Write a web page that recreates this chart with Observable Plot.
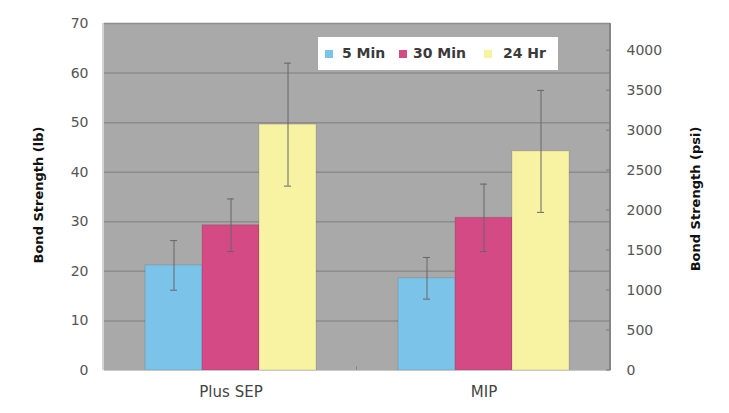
<!DOCTYPE html>
<html>
<head>
<meta charset="utf-8">
<script src="https://cdn.jsdelivr.net/npm/d3@7"></script>
<script src="https://cdn.jsdelivr.net/npm/@observablehq/plot@0.6"></script>
<style>
  body { margin: 0; background: #fff; font-family: "DejaVu Sans", sans-serif; }
  #chart { position: relative; width: 729px; height: 413px; }
  .legend { position: absolute; left: 318px; top: 37px; width: 240px; height: 33px; background: #fff;
            font-size: 14px; color: #3a3a3a; font-weight: bold; }
  .legend span.sw { position: absolute; top: 13px; width: 8px; height: 8px; }
  .legend span.lb { position: absolute; top: 7px; line-height: 18px; }
</style>
</head>
<body>
<div id="chart"></div>
<script>
// Bond strength by product and cure time
const categories = ["Plus SEP", "MIP"];
const series = ["5 Min", "30 Min", "24 Hr"];
const seriesColors = ["#7cc3ea", "#d44a85", "#f8f3a3"];
const meanPlusSEP = [21.2, 29.3, 49.6];
const meanMIP = [18.6, 30.8, 44.2];
const errPlusSEP = [5.0, 5.3, 12.4];
const errMIP = [4.2, 6.8, 12.3];
const lbTicks = [0, 10, 20, 30, 40, 50, 60, 70];
const psiTicks = [0, 500, 1000, 1500, 2000, 2500, 3000, 3500, 4000];
const psiPerLb = 62; // conversion for the bonded area

const rows = [];
[[meanPlusSEP, errPlusSEP], [meanMIP, errMIP]].forEach(([means, errs], ci) => {
  series.forEach((s, si) => {
    rows.push({cat: categories[ci], series: s, mean: means[si], lo: means[si] - errs[si], hi: means[si] + errs[si]});
  });
});

const W = 729, H = 413, ML = 103, MR = 119, MT = 23, MB = 43;

const plot = Plot.plot({
  width: W,
  height: H,
  marginLeft: ML,
  marginRight: MR,
  marginTop: MT,
  marginBottom: MB,
  style: {fontFamily: "'DejaVu Sans', sans-serif", fontSize: "14px", color: "#555", background: "transparent"},
  fx: {domain: categories, padding: 0, label: null},
  x: {domain: series, paddingInner: 0, paddingOuter: 0.7, axis: null},
  y: {domain: [0, 70], label: null},
  color: {domain: series, range: seriesColors},
  marks: [
    Plot.frame({fill: "#a9a9a9", stroke: "none", insetLeft: -0.5, insetRight: -0.5}),
    Plot.gridY(lbTicks.filter(d => d > 0), {stroke: "#8c8c8c", strokeOpacity: 1, strokeWidth: 1.5}),
    Plot.barY(rows, {fx: "cat", x: "series", y: "mean", fill: "series", stroke: "#000", strokeOpacity: 0.12}),
    Plot.ruleX(rows, {fx: "cat", x: "series", y1: "lo", y2: "hi", stroke: "#666", strokeWidth: 1}),
    Plot.tickY(rows, {fx: "cat", x: "series", y: "hi", stroke: "#666", insetLeft: 25, insetRight: 25}),
    Plot.tickY(rows, {fx: "cat", x: "series", y: "lo", stroke: "#666", insetLeft: 25, insetRight: 25}),
    Plot.ruleY([0], {stroke: "#c8c8c8"}),
    Plot.axisY(lbTicks, {anchor: "left", tickSize: 0, tickPadding: 16, label: null, fill: "#555"}),
    Plot.axisY(psiTicks.map(p => p / psiPerLb), {anchor: "right", tickSize: 0, tickPadding: 16, label: null,
      tickFormat: d => String(Math.round(d * psiPerLb)), fill: "#555"}),
    Plot.axisFx({anchor: "bottom", tickSize: 0, tickPadding: 16, label: null, fontSize: 15, fill: "#444"})
  ]
});

const svg = d3.select(plot);
const y = plot.scale("y");
const xR = W - MR, xL = ML;
// plot-area edges
svg.append("line").attr("x1", xL).attr("x2", xL).attr("y1", MT).attr("y2", H - MB)
  .attr("stroke", "#c4c4c4").attr("stroke-width", 1.5);
svg.append("line").attr("x1", xR).attr("x2", xR).attr("y1", MT).attr("y2", H - MB)
  .attr("stroke", "#7a7a7a").attr("stroke-width", 1.5);
// inward tick marks of the psi axis
psiTicks.forEach(p => {
  const yy = y.apply(p / psiPerLb);
  svg.append("line").attr("x1", xR - 4).attr("x2", xR).attr("y1", yy).attr("y2", yy)
    .attr("stroke", "#7a7a7a").attr("stroke-width", 1);
});
// category separator tick
const xMid = (xL + xR) / 2;
svg.append("line").attr("x1", xMid).attr("x2", xMid).attr("y1", H - MB - 4).attr("y2", H - MB)
  .attr("stroke", "#8a8a8a").attr("stroke-width", 1);
// axis titles
svg.append("text").attr("transform", "translate(43,195) rotate(-90)")
  .attr("text-anchor", "middle").attr("font-size", 13).attr("font-weight", "bold").attr("fill", "#111")
  .text("Bond Strength (lb)");
svg.append("text").attr("transform", "translate(700,199) rotate(-90)")
  .attr("text-anchor", "middle").attr("font-size", 13).attr("font-weight", "bold").attr("fill", "#111")
  .text("Bond Strength (psi)");

const chart = document.getElementById("chart");
chart.appendChild(plot);

// legend inside the plot area
const legend = document.createElement("div");
legend.className = "legend";
const swX = [7, 81, 166];
const lbX = [24, 95, 185];
series.forEach((s, i) => {
  const sw = document.createElement("span");
  sw.className = "sw";
  sw.style.left = swX[i] + "px";
  sw.style.background = seriesColors[i];
  legend.appendChild(sw);
  const lb = document.createElement("span");
  lb.className = "lb";
  lb.style.left = lbX[i] + "px";
  lb.textContent = s;
  legend.appendChild(lb);
});
chart.appendChild(legend);
</script>
</body>
</html>
